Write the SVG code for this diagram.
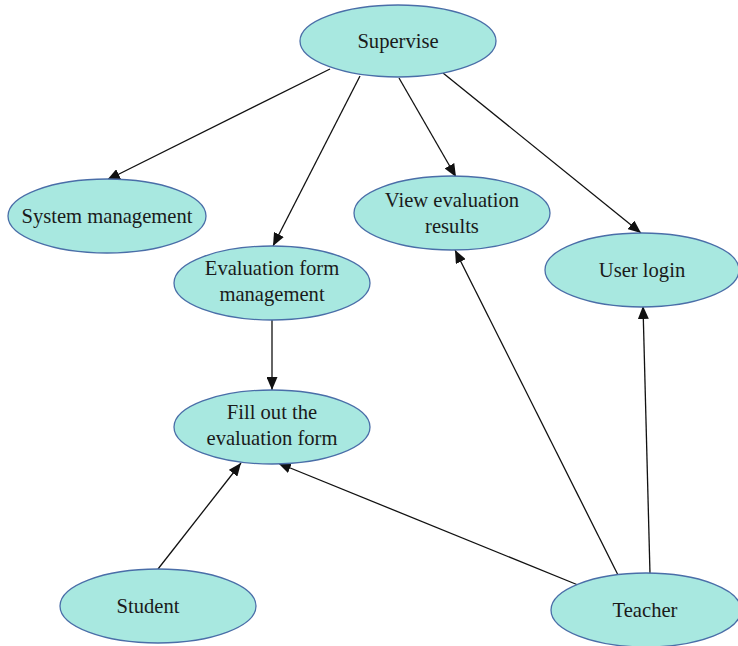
<svg xmlns="http://www.w3.org/2000/svg" width="738" height="646" viewBox="0 0 738 646">
  <style>
    .node ellipse { fill: #a8e8e0; stroke: #4a6ea8; stroke-width: 1.3; }
    .node text { font-family: "Liberation Serif", "DejaVu Serif", serif; font-size: 20.6px; fill: #1a1a1a; text-anchor: middle; }
    .edges line { stroke: #111; stroke-width: 1.3; marker-end: url(#arrow); }
  </style>
  <defs>
    <marker id="arrow" viewBox="0 0 13 11" refX="13" refY="5.5" markerWidth="13" markerHeight="11" markerUnits="userSpaceOnUse" orient="auto">
      <path d="M0,0 L13,5.5 L0,11 Z" fill="#111"/>
    </marker>
  </defs>
  <rect width="738" height="646" fill="#fff"/>

  <g class="edges">
    <line x1="330" y1="69" x2="107" y2="180"/>
    <line x1="360" y1="76" x2="273" y2="246"/>
    <line x1="399" y1="78" x2="456" y2="177"/>
    <line x1="443" y1="73" x2="641" y2="233"/>
    <line x1="272" y1="320" x2="272" y2="390"/>
    <line x1="158" y1="569" x2="241" y2="463"/>
    <line x1="578" y1="585" x2="278" y2="463"/>
    <line x1="618" y1="575" x2="455" y2="250"/>
    <line x1="650" y1="574" x2="643" y2="306"/>
  </g>

  <g id="supervise" class="node">
    <ellipse cx="398" cy="41" rx="98" ry="36"/>
    <text x="398" y="48">Supervise</text>
  </g>
  <g id="system-management" class="node">
    <ellipse cx="107" cy="216" rx="99" ry="37"/>
    <text x="107" y="223">System management</text>
  </g>
  <g id="view-evaluation-results" class="node">
    <ellipse cx="452" cy="213" rx="98" ry="37"/>
    <text x="452" y="207">View evaluation</text>
    <text x="452" y="233">results</text>
  </g>
  <g id="user-login" class="node">
    <ellipse cx="642" cy="270" rx="97" ry="37"/>
    <text x="642" y="277">User login</text>
  </g>
  <g id="evaluation-form-management" class="node">
    <ellipse cx="272" cy="283" rx="98" ry="37"/>
    <text x="272" y="275">Evaluation form</text>
    <text x="272" y="301">management</text>
  </g>
  <g id="fill-out-form" class="node">
    <ellipse cx="272" cy="427" rx="98" ry="37"/>
    <text x="272" y="419">Fill out the</text>
    <text x="272" y="445">evaluation form</text>
  </g>
  <g id="student" class="node">
    <ellipse cx="158" cy="606" rx="98" ry="37"/>
    <text x="148" y="613">Student</text>
  </g>
  <g id="teacher" class="node">
    <ellipse cx="646" cy="610" rx="95" ry="37"/>
    <text x="645" y="617">Teacher</text>
  </g>
</svg>
